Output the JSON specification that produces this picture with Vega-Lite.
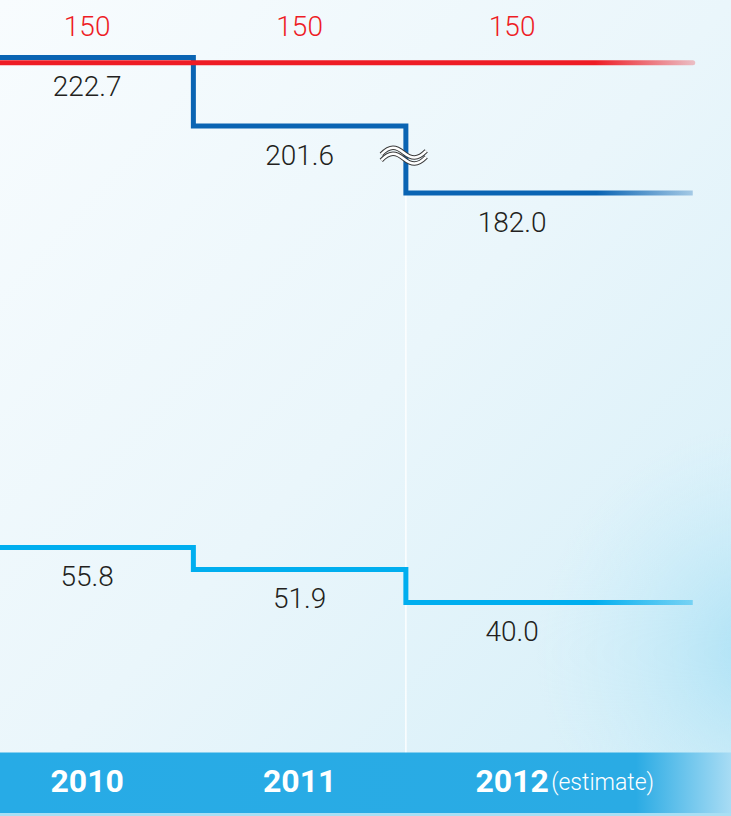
{
  "$schema": "https://vega.github.io/schema/vega-lite/v6.json",
  "width": 731,
  "height": 816,
  "padding": 0,
  "autosize": {"type": "none"},
  "background": "#eef7fb",
  "config": {"view": {"stroke": null}, "text": {"font": "Roboto"}},
  "datasets": {
    "values": [
      {"series": "Dark", "year": 2010, "value": 222.7},
      {"series": "Dark", "year": 2011, "value": 201.6},
      {"series": "Dark", "year": 2012, "value": 182.0},
      {"series": "Light", "year": 2010, "value": 55.8},
      {"series": "Light", "year": 2011, "value": 51.9},
      {"series": "Light", "year": 2012, "value": 40.0}
    ],
    "steps": [
      {"series": "Dark", "from": 2009.5, "value": 222.7},
      {"series": "Dark", "from": 2010.5, "value": 201.6},
      {"series": "Dark", "from": 2011.5, "value": 182.0},
      {"series": "Dark", "from": 2012.85, "value": 182.0},
      {"series": "Light", "from": 2009.5, "value": 55.8},
      {"series": "Light", "from": 2010.5, "value": 51.9},
      {"series": "Light", "from": 2011.5, "value": 40.0},
      {"series": "Light", "from": 2012.85, "value": 40.0}
    ],
    "target": [
      {"year": 2010, "value": 150},
      {"year": 2011, "value": 150},
      {"year": 2012, "value": 150}
    ],
    "targetLine": [
      {"from": 2009.5, "value": 150},
      {"from": 2012.85, "value": 150}
    ],
    "years": [
      {"year": 2010, "label": "2010", "note": ""},
      {"year": 2011, "label": "2011", "note": ""},
      {"year": 2012, "label": "2012", "note": "(estimate)"}
    ]
  },
  "layer": [
    {
      "data": {"values": [{}]},
      "mark": {
        "type": "rect",
        "color": {
          "gradient": "linear", "x1": 0, "y1": 0, "x2": 1, "y2": 1,
          "stops": [
            {"offset": 0, "color": "#f8fcfe"},
            {"offset": 0.5, "color": "#eaf6fb"},
            {"offset": 1, "color": "#d3eef8"}
          ]
        }
      },
      "encoding": {"x": {"value": 0}, "x2": {"value": "width"}, "y": {"value": 0}, "y2": {"value": "height"}}
    },
    {
      "data": {"values": [{}]},
      "mark": {
        "type": "rect",
        "color": {
          "gradient": "radial", "x1": 0.99, "y1": 0.8, "r1": 0, "x2": 0.99, "y2": 0.8, "r2": 0.28,
          "stops": [
            {"offset": 0, "color": "rgba(168,224,245,0.95)"},
            {"offset": 1, "color": "rgba(200,236,249,0)"}
          ]
        }
      },
      "encoding": {"x": {"value": 0}, "x2": {"value": "width"}, "y": {"value": 0}, "y2": {"value": "height"}}
    },
    {
      "layer": [
        {
          "data": {"values": [{}]},
          "mark": {"type": "rule", "color": "#ffffff", "strokeWidth": 1.5, "opacity": 0.9},
          "encoding": {
            "x": {"datum": 2011.5, "type": "quantitative"},
            "y": {"datum": 182, "type": "quantitative"},
            "y2": {"value": "height"}
          }
        },
        {
          "data": {"name": "steps"},
          "transform": [{"filter": "datum.series === 'Dark'"}],
          "mark": {
            "type": "line", "interpolate": "step-after", "strokeWidth": 5, "clip": true,
            "color": {
              "gradient": "linear", "x1": 0, "y1": 0, "x2": 1, "y2": 0,
              "stops": [
                {"offset": 0, "color": "#0a64b3"},
                {"offset": 0.865, "color": "#0a64b3"},
                {"offset": 1, "color": "rgba(10,100,179,0.3)"}
              ]
            }
          },
          "encoding": {
            "x": {"field": "from", "type": "quantitative"},
            "y": {"field": "value", "type": "quantitative"}
          }
        },
        {
          "data": {"name": "steps"},
          "transform": [{"filter": "datum.series === 'Light'"}],
          "mark": {
            "type": "line", "interpolate": "step-after", "strokeWidth": 5, "clip": true,
            "color": {
              "gradient": "linear", "x1": 0, "y1": 0, "x2": 1, "y2": 0,
              "stops": [
                {"offset": 0, "color": "#00aeef"},
                {"offset": 0.86, "color": "#00aeef"},
                {"offset": 1, "color": "rgba(0,174,239,0.4)"}
              ]
            }
          },
          "encoding": {
            "x": {"field": "from", "type": "quantitative"},
            "y": {"field": "value", "type": "quantitative"}
          }
        },
        {
          "data": {"name": "values"},
          "mark": {"type": "text", "fontSize": 28, "fontWeight": 300, "color": "#231f20", "dy": 30.5, "baseline": "middle"},
          "encoding": {
            "x": {"field": "year", "type": "quantitative"},
            "y": {"field": "value", "type": "quantitative"},
            "text": {"field": "value", "type": "quantitative", "format": ".1f"}
          }
        },
        {
          "data": {"values": [{}]},
          "mark": {
            "type": "point", "filled": false, "size": 2025, "stroke": "#3b3b3b", "strokeWidth": 4.5, "opacity": 1,
            "shape": "M-1,-0.05 C-0.6,-0.45 -0.35,-0.4 0,-0.12 C0.35,0.16 0.6,0.2 1,-0.2 M-1,0.22 C-0.6,-0.18 -0.35,-0.13 0,0.15 C0.35,0.43 0.6,0.47 1,0.07"
          },
          "encoding": {
            "x": {"datum": 2011.49, "type": "quantitative"},
            "y": {"datum": 193, "type": "quantitative"}
          }
        },
        {
          "data": {"values": [{}]},
          "mark": {
            "type": "point", "filled": false, "size": 2025, "stroke": "#ffffff", "strokeWidth": 2.5, "opacity": 1,
            "shape": "M-1,-0.05 C-0.6,-0.45 -0.35,-0.4 0,-0.12 C0.35,0.16 0.6,0.2 1,-0.2 M-1,0.22 C-0.6,-0.18 -0.35,-0.13 0,0.15 C0.35,0.43 0.6,0.47 1,0.07"
          },
          "encoding": {
            "x": {"datum": 2011.49, "type": "quantitative"},
            "y": {"datum": 193, "type": "quantitative"}
          }
        }
      ],
      "encoding": {
        "x": {"type": "quantitative", "scale": {"domain": [2009.59, 2013.03], "nice": false, "zero": false}, "axis": null},
        "y": {"type": "quantitative", "scale": {"type": "linear", "domain": [40, 51.9, 55.8, 182, 201.6, 222.7], "range": [602.5, 569.5, 547.5, 193, 126, 57.5], "nice": false, "zero": false}, "axis": null}
      }
    },
    {
      "layer": [
        {
          "data": {"name": "targetLine"},
          "mark": {
            "type": "trail", "size": 5, "clip": true,
            "color": {
              "gradient": "linear", "x1": 0, "y1": 0, "x2": 1, "y2": 0,
              "stops": [
                {"offset": 0, "color": "#ee1c25"},
                {"offset": 0.86, "color": "#ee1c25"},
                {"offset": 1, "color": "rgba(238,28,37,0.25)"}
              ]
            }
          },
          "encoding": {
            "x": {"field": "from", "type": "quantitative"},
            "y": {"field": "value", "type": "quantitative"}
          }
        },
        {
          "data": {"name": "target"},
          "mark": {"type": "text", "fontSize": 28, "fontWeight": 300, "color": "#ee1c25", "dy": -35, "baseline": "middle"},
          "encoding": {
            "x": {"field": "year", "type": "quantitative"},
            "y": {"field": "value", "type": "quantitative"},
            "text": {"field": "value", "type": "quantitative", "format": "d"}
          }
        }
      ],
      "encoding": {
        "x": {"type": "quantitative", "scale": {"domain": [2009.59, 2013.03], "nice": false, "zero": false}, "axis": null},
        "y": {"type": "quantitative", "scale": {"domain": [0, 162.5], "nice": false, "zero": false}, "axis": null}
      }
    },
    {
      "data": {"values": [{}]},
      "mark": {
        "type": "rect",
        "color": {
          "gradient": "linear", "x1": 0, "y1": 0, "x2": 1, "y2": 0,
          "stops": [
            {"offset": 0, "color": "#27abe6"},
            {"offset": 0.87, "color": "#2aabe4"},
            {"offset": 1, "color": "#a8dcf4"}
          ]
        }
      },
      "encoding": {"x": {"value": 0}, "x2": {"value": "width"}, "y": {"value": 752.5}, "y2": {"value": 813}}
    },
    {
      "data": {"values": [{}]},
      "mark": {"type": "rect", "color": "#a9dff3"},
      "encoding": {"x": {"value": 0}, "x2": {"value": "width"}, "y": {"value": 813}, "y2": {"value": "height"}}
    },
    {
      "data": {"name": "years"},
      "mark": {"type": "text", "fontSize": 32, "fontWeight": "bold", "color": "#ffffff", "baseline": "middle", "dy": -34},
      "encoding": {
        "x": {"field": "year", "type": "quantitative", "scale": {"domain": [2009.59, 2013.03], "nice": false, "zero": false}, "axis": null},
        "y": {"value": "height"},
        "text": {"field": "label"}
      }
    },
    {
      "data": {"name": "years"},
      "mark": {"type": "text", "fontSize": 23, "fontWeight": 300, "color": "#ffffff", "align": "left", "baseline": "middle", "dx": 39, "dy": -33},
      "encoding": {
        "x": {"field": "year", "type": "quantitative", "scale": {"domain": [2009.59, 2013.03], "nice": false, "zero": false}, "axis": null},
        "y": {"value": "height"},
        "text": {"field": "note"}
      }
    }
  ],
  "resolve": {"scale": {"y": "independent"}}
}
